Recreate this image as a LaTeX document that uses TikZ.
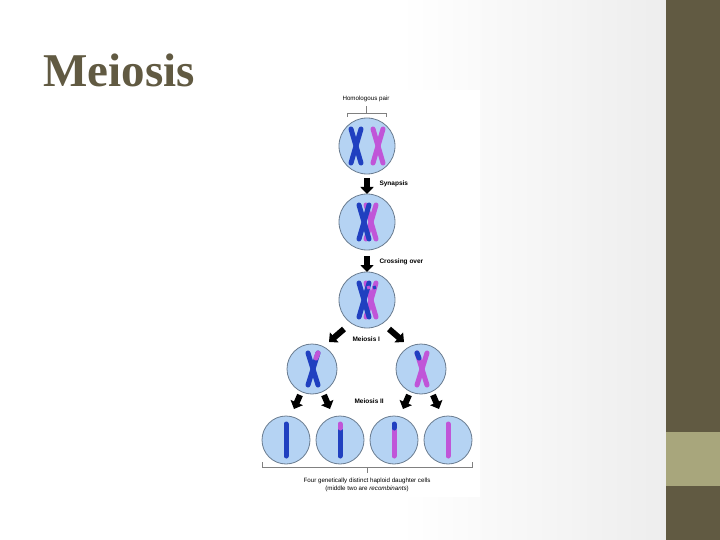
\documentclass[tikz,border=0pt]{standalone}
\usepackage{fontspec}
\setmainfont{Liberation Serif}
\newfontfamily\arialf{Liberation Sans}
\usetikzlibrary{arrows.meta}
\definecolor{olive}{HTML}{615A42}
\definecolor{lolive}{HTML}{A8A67C}
\definecolor{cellf}{HTML}{B5D3F3}
\definecolor{celld}{HTML}{6A7C90}
\definecolor{cb}{HTML}{2040C0}
\definecolor{cp}{HTML}{C055D8}
\tikzset{
 cell/.style={circle,draw=celld,fill=cellf,line width=0.8pt,minimum size=#1},
 cell/.default=56pt,
 bch/.style={line width=5pt,cb,line cap=round},
 pch/.style={line width=5pt,cp,line cap=round},
 blk/.style={line width=6pt,black,-{Triangle[width=13pt,length=7pt]}},
 lab/.style={font=\arialf\bfseries\fontsize{6.5}{7}\selectfont,anchor=west},
 sm/.style={font=\arialf\fontsize{6.2}{7.5}\selectfont,align=center}
}
\newcommand{\chX}[4]{% x,y,style,half-height
 \draw[#3] (#1-5,#2-#4) -- (#1+5,#2+#4);
 \draw[#3] (#1+5,#2-#4) -- (#1-5,#2+#4);}
\begin{document}
\begin{tikzpicture}[x=1pt,y=-1pt]
\useasboundingbox (0,0) rectangle (720,540);
\shade[left color=white,right color=gray!14] (400,0) rectangle (666,540);
\fill[olive] (666,0) rectangle (720,540);
\fill[lolive] (666,432) rectangle (720,486);
\node[anchor=west,text=olive,font=\bfseries\fontsize{47}{50}\selectfont] (title) at (40,70) {Meiosis};
\fill[white] (258,90) rectangle (480,497);
% top label
\node[sm] (hp) at (366,99) {Homologous pair};
\draw[gray,line width=0.5pt] (347,117) -- (347,113) -- (386,113) -- (386,117) (366,113) -- (366,106);
% cells
\node[cell] (c1) at (367,146) {};
\node[cell] (c2) at (367,222) {};
\node[cell] (c3) at (367,300) {};
\node[cell=50pt] (c4) at (312,369) {};
\node[cell=50pt] (c5) at (421,369) {};
\foreach \i/\x in {6/286,7/340,8/394,9/448} \node[cell=48pt] (c\i) at (\x,440) {};
% chromosomes
\chX{356}{146}{bch}{17}
\chX{378}{146}{pch}{17}
\chX{371}{222}{pch}{17}
\chX{364}{222}{bch}{17}
\chX{371}{300}{pch}{17}
\chX{364}{300}{bch}{17}
\draw[cp,line width=3pt] (368,286) -- (369,289);
\draw[cb,line width=3pt] (374,286) -- (375,289);
\chX{313}{369}{bch}{16}
\draw[pch] (318,353) -- (316,358);
\chX{422}{369}{pch}{16}
\draw[bch] (417,353) -- (419,358);
\draw[bch] (286,424) -- (286,456);
\draw[bch] (340,430) -- (340,456);
\draw[pch] (340,424) -- (340,428);
\draw[pch] (394,430) -- (394,456);
\draw[bch] (394,424) -- (394,428);
\draw[pch] (448,424) -- (448,456);
% arrows
\coordinate (a1s) at (367,178); \coordinate (a1e) at (367,194);
\draw[blk] (a1s) -- (a1e);
\node[lab] (l1) at (376,184) {Synapsis};
\coordinate (a2s) at (367,256); \coordinate (a2e) at (367,272);
\draw[blk] (a2s) -- (a2e);
\node[lab] (l2) at (376,262) {Crossing over};
\coordinate (a3s) at (344,329); \coordinate (a3e) at (329,342);
\draw[blk] (a3s) -- (a3e);
\coordinate (a4s) at (389,329); \coordinate (a4e) at (404,342);
\draw[blk] (a4s) -- (a4e);
\node[lab] (l3) at (349,339) {Meiosis I};
\foreach \n/\sx/\ex in {a/300/294,b/324/330,c/409/403,d/433/439}{
 \coordinate (s\n) at (\sx,395); \coordinate (e\n) at (\ex,409);
 \draw[blk] (s\n) -- (e\n);}
\node[lab] (l4) at (351,401) {Meiosis II};
% bottom bracket
\draw[gray,line width=0.5pt] (262,462) -- (262,467) -- (472,467) -- (472,462) (367,467) -- (367,473);
\node[sm] (bt) at (367,485) {Four genetically distinct haploid daughter cells\\(middle two are \textit{recombinants})};
\end{tikzpicture}
\end{document}
